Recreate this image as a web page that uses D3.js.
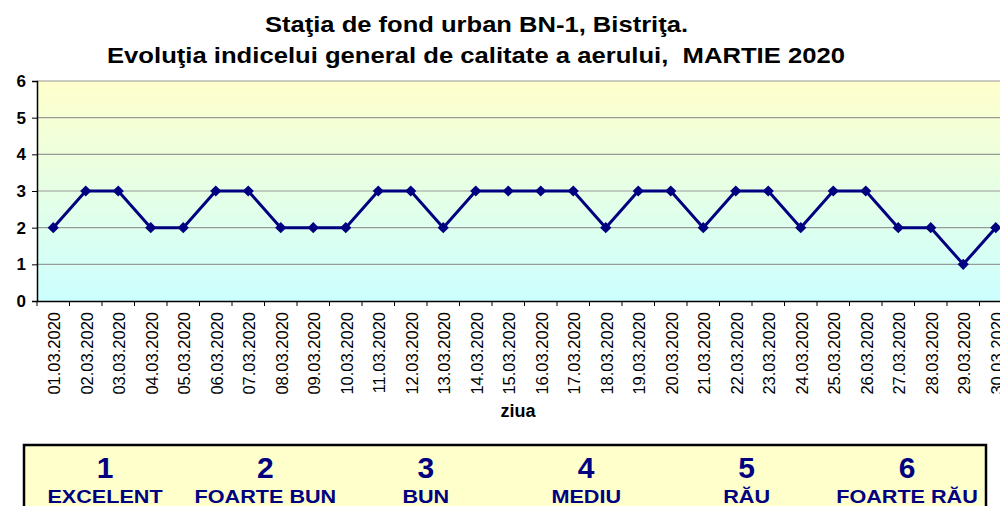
<!DOCTYPE html>
<html>
<head>
<meta charset="utf-8">
<script src="https://cdn.jsdelivr.net/npm/d3@7"></script>
<style>
  body { margin: 0; background: #fff; }
  svg { display: block; font-family: "Liberation Sans", Arial, sans-serif; }
</style>
</head>
<body>
<svg id="mainsvg" width="1000" height="506"></svg>
<script>
// zilele lunii si indicele general
var zile = ['01.03.2020','02.03.2020','03.03.2020','04.03.2020','05.03.2020','06.03.2020',
            '07.03.2020','08.03.2020','09.03.2020','10.03.2020','11.03.2020','12.03.2020',
            '13.03.2020','14.03.2020','15.03.2020','16.03.2020','17.03.2020','18.03.2020',
            '19.03.2020','20.03.2020','21.03.2020','22.03.2020','23.03.2020','24.03.2020',
            '25.03.2020','26.03.2020','27.03.2020','28.03.2020','29.03.2020','30.03.2020'];
var indice = [2,3,3,2,2,3,3,2,2,2,3,3,2,3,3,3,3,2,3,3,2,3,3,2,3,3,2,2,1,2];
var yTicks = [0,1,2,3,4,5,6];
var legendaNr = ['1','2','3','4','5','6'];
var legendaText = ['EXCELENT','FOARTE BUN','BUN','MEDIU','RĂU','FOARTE RĂU'];

var svg = d3.select("#mainsvg"),
    margin = {top: 81, left: 37, bottom: 301, right: 1012};

var defs = svg.append('defs')
var grad = defs.append('linearGradient')
    .attr('id','bg').attr('x1',0).attr('y1',0).attr('x2',0).attr('y2',1)
grad.append('stop').attr('offset','0%').attr('stop-color','#FFFFCC')
grad.append('stop').attr('offset','100%').attr('stop-color','#CCFFFF')

var x = d3.scaleBand()
    .domain(zile)
    .range([margin.left, margin.right])
var y = d3.scaleLinear()
    .domain([0,6])
    .range([margin.bottom, margin.top])

// fundal
svg.append('rect')
    .attr('x', margin.left).attr('y', margin.top)
    .attr('width', margin.right - margin.left)
    .attr('height', margin.bottom - margin.top)
    .attr('fill','url(#bg)')

// grila
svg.append('g').selectAll('line')
    .data(yTicks.filter(d => d > 0))
    .enter().append('line')
    .attr('x1', margin.left).attr('x2', margin.right)
    .attr('y1', d => y(d)).attr('y2', d => y(d))
    .attr('stroke','#999').attr('stroke-width',1.2)

// axa y
var yAxis = svg.append('g')
    .attr('transform','translate(' + margin.left + ',0)')
    .call(d3.axisLeft(y).tickValues(yTicks).tickSize(5).tickPadding(6).tickFormat(d3.format('d')))
yAxis.select('.domain').attr('stroke','#000').attr('stroke-width',1.5)
yAxis.selectAll('.tick line').attr('stroke','#000')
yAxis.selectAll('text')
    .attr('font-size', 17).attr('font-weight','bold').attr('fill','#000')
    .attr('font-family','"Liberation Sans", Arial, sans-serif')

// axa x
var xAxis = svg.append('g')
    .attr('transform','translate(0,' + margin.bottom + ')')
    .call(d3.axisBottom(x).tickSize(0).tickPadding(0))
xAxis.select('.domain').attr('stroke','#000').attr('stroke-width',1.5)
xAxis.selectAll('.tick text')
    .attr('transform','rotate(-90)')
    .attr('x', -11).attr('y', 1).attr('dy','0.35em')
    .attr('text-anchor','end')
    .attr('font-size', 16.5).attr('fill','#000')
    .attr('font-family','"Liberation Sans", Arial, sans-serif')
// liniile dintre categorii
xAxis.append('g').selectAll('line')
    .data(zile.concat(['end']))
    .enter().append('line')
    .attr('x1', (d,i) => margin.left + i * x.step())
    .attr('x2', (d,i) => margin.left + i * x.step())
    .attr('y1', 0).attr('y2', 5)
    .attr('stroke','#000')

svg.append('text')
    .attr('x', 518).attr('y', 417)
    .attr('text-anchor','middle')
    .attr('font-size', 18).attr('font-weight','bold')
    .text('ziua')

// linia
var line = d3.line()
    .x((d,i) => x(zile[i]) + x.bandwidth()/2)
    .y(d => y(d))
svg.append('path')
    .datum(indice)
    .attr('d', line)
    .attr('fill','none')
    .attr('stroke','#000080')
    .attr('stroke-width',3)

svg.append('g').selectAll('path')
    .data(indice)
    .enter().append('path')
    .attr('d', d3.symbol().type(d3.symbolDiamond2).size(80))
    .attr('transform', (d,i) => 'translate(' + (x(zile[i]) + x.bandwidth()/2) + ',' + y(d) + ')')
    .attr('fill','#000080')

// titlu
var title = svg.append('text')
    .attr('font-size', 22).attr('font-weight','bold')
title.append('tspan').attr('x', 265).attr('y', 32)
    .attr('textLength', 423).attr('lengthAdjust','spacingAndGlyphs')
    .text('Staţia de fond urban BN-1, Bistriţa.')
title.append('tspan').attr('x', 107).attr('y', 63).attr('xml:space','preserve')
    .attr('textLength', 738).attr('lengthAdjust','spacingAndGlyphs')
    .text('Evoluţia indicelui general de calitate a aerului,  MARTIE 2020')

// legenda
svg.append('rect')
    .attr('x', 24).attr('y', 445)
    .attr('width', 962).attr('height', 80)
    .attr('fill','#FFFFCC')
    .attr('stroke','#000').attr('stroke-width',2.5)

var lx = d3.scalePoint().domain(legendaNr).range([105, 907])
svg.append('g').selectAll('text')
    .data(legendaNr)
    .enter().append('text')
    .attr('x', d => lx(d)).attr('y', 478)
    .attr('text-anchor','middle')
    .attr('font-size', 30).attr('font-weight','bold')
    .attr('fill','#000080')
    .text(d => d)
svg.append('g').selectAll('text')
    .data(legendaText)
    .enter().append('text')
    .attr('x', (d,i) => lx(legendaNr[i])).attr('y', 503)
    .attr('text-anchor','middle')
    .attr('font-size', 18).attr('font-weight','bold')
    .attr('fill','#000080')
    .text(d => d)
    .each(function(){
        // textul din legenda e mai lat in original
        var w = this.getComputedTextLength()
        d3.select(this).attr('textLength', w * 1.2).attr('lengthAdjust','spacingAndGlyphs')
    })
</script>
</body>
</html>
